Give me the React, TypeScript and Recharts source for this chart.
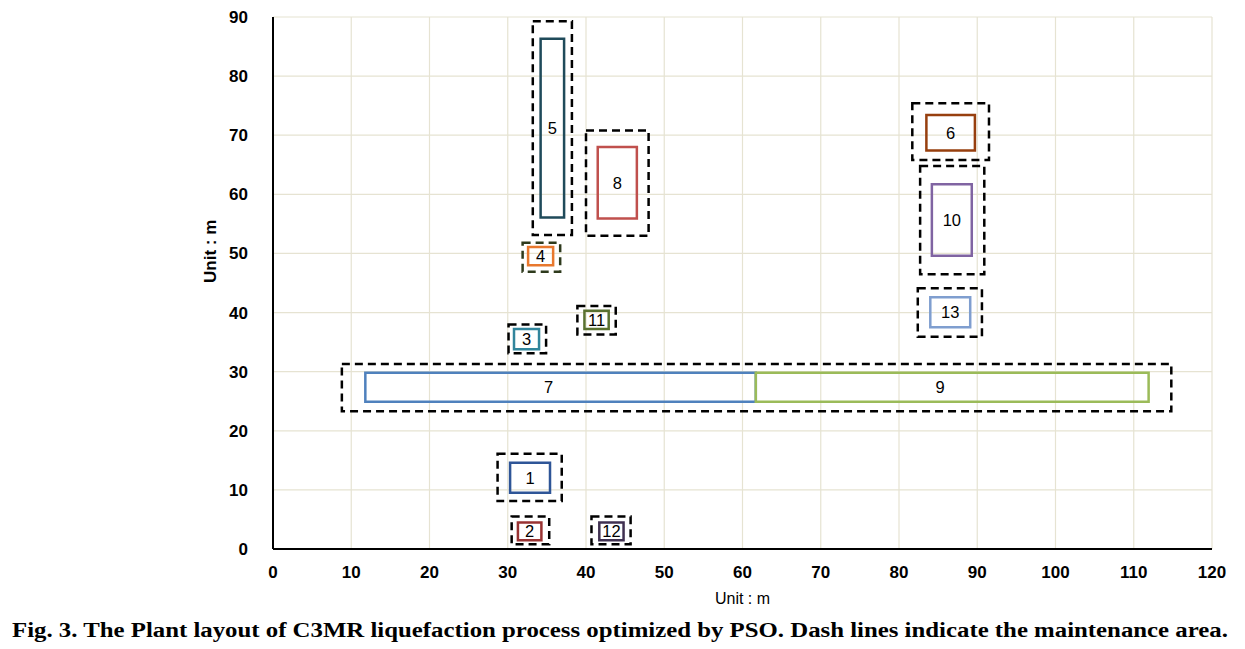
import { ScatterChart, Scatter, XAxis, YAxis, CartesianGrid, ReferenceArea } from 'recharts';

// equipment footprints (m)
const UNIT_IDS = ['1', '2', '3', '4', '5', '6', '7', '8', '9', '10', '11', '12', '13'];
const UNIT_X1 = [30.3, 31.3, 30.8, 32.6, 34.2, 83.5, 11.8, 41.5, 61.7, 84.2, 39.8, 41.7, 84.0];
const UNIT_X2 = [35.4, 34.3, 34.0, 35.8, 37.2, 89.7, 61.7, 46.5, 111.9, 89.3, 42.9, 44.8, 89.1];
const UNIT_Y1 = [9.5, 1.5, 33.8, 48.0, 56.1, 67.4, 24.9, 55.9, 24.9, 49.6, 37.2, 1.5, 37.5];
const UNIT_Y2 = [14.6, 4.5, 37.2, 51.1, 86.3, 73.4, 29.8, 68.0, 29.8, 61.7, 40.3, 4.5, 42.6];

// maintenance areas (7 and 9 share one)
const MAINT_IDS = ['1', '2', '3', '4', '5', '6', '7+9', '8', '10', '11', '12', '13'];
const MAINT_X1 = [28.7, 30.5, 30.1, 31.9, 33.2, 81.7, 8.8, 40.0, 82.7, 38.9, 40.7, 82.4];
const MAINT_X2 = [36.9, 35.3, 34.9, 36.7, 38.2, 91.5, 114.8, 48.0, 90.9, 43.8, 45.7, 90.6];
const MAINT_Y1 = [8.1, 0.8, 33.1, 46.9, 53.1, 65.8, 23.3, 53.0, 46.5, 36.3, 0.8, 35.9];
const MAINT_Y2 = [16.1, 5.5, 38.0, 51.8, 89.3, 75.4, 31.3, 70.8, 64.8, 41.1, 5.5, 44.1];

const X_TICKS = [0, 10, 20, 30, 40, 50, 60, 70, 80, 90, 100, 110, 120];
const Y_TICKS = [0, 10, 20, 30, 40, 50, 60, 70, 80, 90];

const UNIT_COLORS = [
  '#2E5597', '#993333', '#31859C', '#E8782E', '#1F4A5A', '#973F0E', '#4F81BD',
  '#C0504D', '#9BBB59', '#8064A2', '#5A7230', '#403151', '#7F9ECF',
];
const MAINT_COLORS = MAINT_IDS.map((id) => (id === '4' ? '#2E3A1C' : '#000000'));
// the two long units have their numbers set left of centre
const LABEL_DX = UNIT_IDS.map((id) => (id === '7' || id === '9' ? -12 : 0));

const FONT = '"Liberation Sans", Arial, sans-serif';

export default function App() {
  const centers = UNIT_IDS.map((id, i) => ({
    id,
    x: (UNIT_X1[i] + UNIT_X2[i]) / 2,
    y: (UNIT_Y1[i] + UNIT_Y2[i]) / 2,
  }));

  return (
    <div style={{ position: 'absolute', left: 0, top: 0, width: 1245, height: 649, background: '#fff' }}>
      <ScatterChart width={1245} height={610} margin={{ top: 17, right: 33, left: 0, bottom: 0 }}>
        <CartesianGrid stroke="#E6E3D2" strokeWidth={1.2} vertical horizontal />
        <XAxis
          type="number"
          dataKey="x"
          domain={[0, 120]}
          ticks={X_TICKS}
          interval={0}
          height={61}
          tickSize={0}
          tickMargin={17}
          tickLine={false}
          axisLine={{ stroke: '#000', strokeWidth: 2 }}
          tick={{ fontSize: 17, fontWeight: 'bold', fill: '#000', fontFamily: FONT }}
          label={{ value: 'Unit : m', position: 'insideBottom', offset: 6, fontSize: 16, fill: '#000', fontFamily: FONT }}
        />
        <YAxis
          type="number"
          dataKey="y"
          domain={[0, 90]}
          ticks={Y_TICKS}
          interval={0}
          width={273}
          tickSize={0}
          tickMargin={25}
          tickLine={false}
          axisLine={{ stroke: '#000', strokeWidth: 2 }}
          tick={{ fontSize: 17, fontWeight: 'bold', fill: '#000', fontFamily: FONT }}
          label={{ value: 'Unit : m', angle: -90, position: 'insideLeft', offset: 210, fontSize: 17, fontWeight: 'bold', fill: '#000', fontFamily: FONT }}
        />
        {MAINT_IDS.map((id, i) => (
          <ReferenceArea
            key={'m' + id}
            x1={MAINT_X1[i]}
            x2={MAINT_X2[i]}
            y1={MAINT_Y1[i]}
            y2={MAINT_Y2[i]}
            fill="none"
            fillOpacity={0}
            stroke={MAINT_COLORS[i]}
            strokeWidth={2.5}
            strokeDasharray="8 5"
            ifOverflow="visible"
          />
        ))}
        {UNIT_IDS.map((id, i) => (
          <ReferenceArea
            key={'u' + id}
            x1={UNIT_X1[i]}
            x2={UNIT_X2[i]}
            y1={UNIT_Y1[i]}
            y2={UNIT_Y2[i]}
            fill="none"
            fillOpacity={0}
            stroke={UNIT_COLORS[i]}
            strokeWidth={2.5}
            ifOverflow="visible"
            label={{ value: id, position: 'center', dx: LABEL_DX[i], fontSize: 16.5, fill: '#000', fontFamily: FONT }}
          />
        ))}
        <Scatter data={centers} fill="none" shape={() => <g />} isAnimationActive={false} />
      </ScatterChart>
      <div
        style={{
          position: 'absolute',
          left: 12,
          top: 619,
          fontFamily: '"Liberation Serif", "Times New Roman", serif',
          fontWeight: 'bold',
          fontSize: 20,
          color: '#000',
          whiteSpace: 'nowrap',
          transform: 'scaleX(1.24)',
          transformOrigin: 'left center',
        }}
      >
        Fig. 3. The Plant layout of C3MR liquefaction process optimized by PSO. Dash lines indicate the maintenance area.
      </div>
    </div>
  );
}
